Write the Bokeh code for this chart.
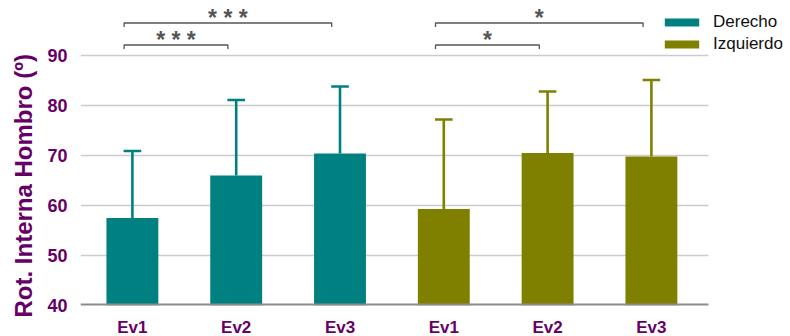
from bokeh.plotting import figure
from bokeh.models import ColumnDataSource, FixedTicker, Legend, LegendItem, Range1d, Title
from bokeh.core.properties import value
from bokeh.embed import file_html
from bokeh.resources import INLINE

# ---- data ----
categories = ["Ev1", "Ev2", "Ev3"]
groups = ["Derecho", "Izquierdo"]
derecho_mean = [57.5, 66.0, 70.4]
derecho_upper = [70.9, 81.1, 83.8]
izquierdo_mean = [59.3, 70.5, 69.8]
izquierdo_upper = [77.2, 82.8, 85.1]
group_colors = ["#008080", "#808000"]
y_ticks = [40, 50, 60, 70, 80, 90]
y_title = "Rot. Interna Hombro (º)"
# significance comparisons (bar index from, bar index to, label, bracket height)
comp_from = [0, 0, 3, 3]
comp_to = [1, 2, 4, 5]
comp_label = ["* * *", "* * *", "*", "*"]
comp_y = [92.1, 96.5, 92.1, 96.5]

PURPLE = "#660066"
FONT = "Liberation Sans"

n = len(categories)
X_MIN, X_END = -0.5, 2 * n - 0.45   # extent of the plotted category band

p = figure(frame_width=710, frame_height=305, output_backend="svg",
           toolbar_location=None, x_range=Range1d(-0.5, 6.34),
           y_range=Range1d(40, 101))
p.min_border_left = 80
p.min_border_right = 0
p.min_border_top = 0
p.min_border_bottom = 31
p.outline_line_color = None
p.background_fill_color = "white"

# horizontal gridlines limited to the category band
p.segment(x0=X_MIN, x1=X_END, y0=y_ticks[1:], y1=y_ticks[1:],
          line_color="#cccccc", line_width=1.5)

renderers = []
all_means = [derecho_mean, izquierdo_mean]
all_upper = [derecho_upper, izquierdo_upper]
for gi, g in enumerate(groups):
    xs = [gi * n + i for i in range(n)]
    src = ColumnDataSource(dict(x=xs, top=all_means[gi], up=all_upper[gi],
                                cl=[x - 0.085 for x in xs], cr=[x + 0.085 for x in xs]))
    r = p.vbar(x="x", top="top", bottom=40, width=0.5, source=src,
               fill_color=group_colors[gi], line_color=None)
    p.segment(x0="x", y0="top", x1="x", y1="up", source=src,
              line_color=group_colors[gi], line_width=2.6, line_cap="butt")
    p.segment(x0="cl", y0="up", x1="cr", y1="up", source=src,
              line_color=group_colors[gi], line_width=2.6, line_cap="butt")
    renderers.append(r)

# baseline (x axis line) limited to the category band
p.segment(x0=[X_MIN], x1=[X_END], y0=[40], y1=[40], line_color="#8c8c8c", line_width=4)

# brackets
off = -0.08
xs_b, ys_b, mids, ty = [], [], [], []
for a, b, y in zip(comp_from, comp_to, comp_y):
    x0, x1 = a + off, b + off
    xs_b.append([x0, x0, x1, x1])
    ys_b.append([y - 0.8, y, y, y - 0.8])
    mids.append((x0 + x1) / 2)
    ty.append(y + 1.1)
p.multi_line(xs_b, ys_b, line_color="#555555", line_width=1.3)
p.text(x=mids, y=ty, text=comp_label, text_align="center",
       text_baseline="alphabetic", text_font=value(FONT), text_font_style="bold",
       text_font_size="23px", text_color="#555555")

# axes
p.xaxis.ticker = FixedTicker(ticks=list(range(2 * n)))
p.xaxis.major_label_overrides = {i: categories[i % n] for i in range(2 * n)}
p.xaxis.major_label_text_font = FONT
p.xaxis.major_label_text_font_style = "bold"
p.xaxis.major_label_text_font_size = "17px"
p.xaxis.major_label_text_color = PURPLE
p.xaxis.major_tick_line_color = None
p.xaxis.minor_tick_line_color = None
p.xaxis.axis_line_color = None
p.xaxis.major_label_standoff = 6

p.yaxis.ticker = FixedTicker(ticks=y_ticks)
p.yaxis.major_label_text_font = FONT
p.yaxis.major_label_text_font_style = "bold"
p.yaxis.major_label_text_font_size = "18px"
p.yaxis.major_label_text_color = PURPLE
p.yaxis.major_tick_line_color = None
p.yaxis.minor_tick_line_color = None
p.yaxis.axis_line_color = None
p.yaxis.major_label_standoff = 7

p.xgrid.grid_line_color = None
p.ygrid.grid_line_color = None

p.add_layout(Title(text=y_title, align="left", offset=-12, standoff=15,
                   text_font=FONT, text_font_style="bold", text_font_size="24px",
                   text_color=PURPLE), "left")

legend = Legend(items=[LegendItem(label=g, renderers=[r]) for g, r in zip(groups, renderers)],
                location=(580, 251), padding=0, margin=0, spacing=2,
                glyph_width=43, glyph_height=10, label_height=20,
                label_standoff=10, label_text_font=FONT,
                label_text_font_size="17px", label_text_color="#111111",
                border_line_color=None, background_fill_alpha=0)
p.add_layout(legend, "center")

open("out.html", "w").write(file_html(p, INLINE))
